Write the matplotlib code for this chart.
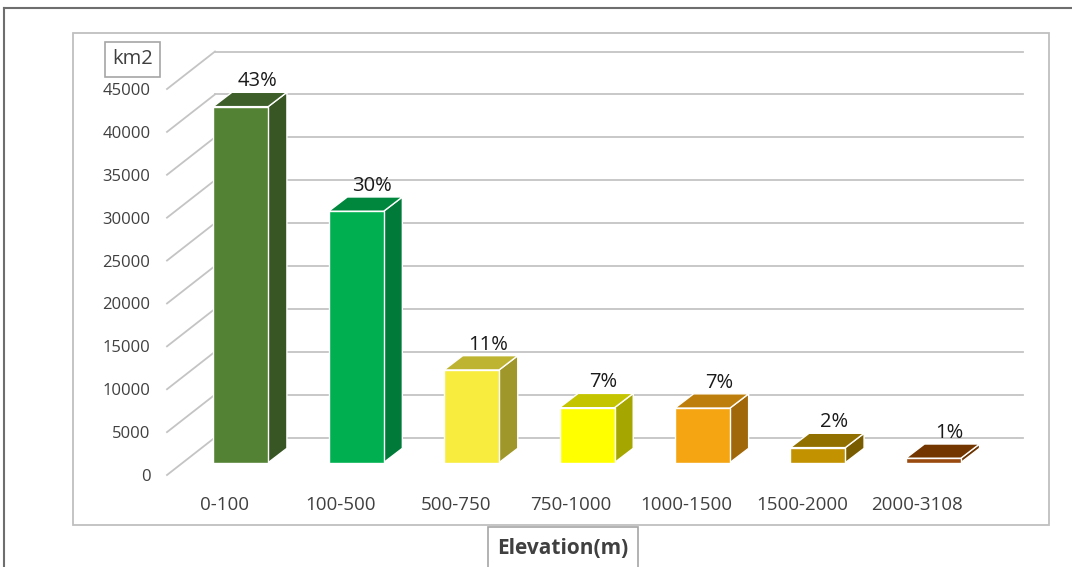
import matplotlib
matplotlib.use("Agg")
import matplotlib.pyplot as plt
from matplotlib.patches import Polygon, Rectangle
from matplotlib.lines import Line2D

# ---- data -------------------------------------------------------------
categories = ["0-100", "100-500", "500-750", "750-1000",
              "1000-1500", "1500-2000", "2000-3108"]
area_km2 = [41500, 29300, 10800, 6400, 6350, 1750, 500]
y_ticks = list(range(0, 45001, 5000))

front_colors = ["#548235", "#00B050", "#F8EC3F", "#FFFF00",
                "#F5A511", "#C39200", "#9A4A0E"]
top_colors = ["#3E5F2A", "#00873E", "#BFB432", "#C4C400",
              "#BE7E0B", "#917000", "#733600"]
side_colors = ["#375623", "#007A38", "#A0972A", "#A6A600",
               "#A1680A", "#7A5C00", "#6B3300"]

plt.rcParams["font.family"] = ["Open Sans", "DejaVu Sans"]

W, H, DPI = 1072, 567, 100
fig = plt.figure(figsize=(W / DPI, H / DPI), dpi=DPI)
fig.patch.set_facecolor("white")

# front plane of the 3-D box
AX_L, AX_B, AX_W, AX_H = 167, 92, 808, 386
ax = fig.add_axes([AX_L / W, AX_B / H, AX_W / W, AX_H / H])
ax.set_xlim(-0.5, 6.5)
ax.set_ylim(0, 45000)
ax.patch.set_visible(False)
for s in ax.spines.values():
    s.set_visible(False)

px_per_cat = AX_W / 7.0
px_per_val = AX_H / 45000.0


def depth(dx_px, dy_px):
    """Oblique depth offset given in pixels -> data units."""
    return dx_px / px_per_cat, dy_px / px_per_val


wall_dx, wall_dy = depth(48, 37.5)
front_dx, front_dy = depth(16, 12.4)
bar_dx, bar_dy = depth(18.7, 14.3)
bar_w = 55 / px_per_cat

grid_col = "#C4C4C4"
x0, x1 = -0.5, 6.5
for v in y_ticks:
    # back-wall gridline
    ax.add_line(Line2D([x0 + wall_dx, x1 + wall_dx], [v + wall_dy, v + wall_dy],
                       color=grid_col, lw=1.3, clip_on=False, zorder=1))
    # side-wall diagonal
    ax.add_line(Line2D([x0, x0 + wall_dx], [v, v + wall_dy],
                       color=grid_col, lw=1.3, clip_on=False, zorder=1))

total = sum(area_km2)
for i, v in enumerate(area_km2):
    xl = i + front_dx - bar_w / 2
    xr = i + front_dx + bar_w / 2
    yb = front_dy
    yt = front_dy + v
    edge = dict(edgecolor="white", linewidth=1.0, clip_on=False, zorder=3,
                joinstyle="round")
    ax.add_patch(Polygon([(xr, yb), (xr + bar_dx, yb + bar_dy),
                          (xr + bar_dx, yt + bar_dy), (xr, yt)],
                         closed=True, facecolor=side_colors[i], **edge))
    ax.add_patch(Polygon([(xl, yt), (xr, yt), (xr + bar_dx, yt + bar_dy),
                          (xl + bar_dx, yt + bar_dy)],
                         closed=True, facecolor=top_colors[i], **edge))
    ax.add_patch(Rectangle((xl, yb), bar_w, v, facecolor=front_colors[i], **edge))
    pct = round(100 * v / total)
    ax.annotate(f"{pct}%", xy=(i + front_dx + bar_dx / 2, yt + bar_dy / 2),
                xytext=(5, 13), textcoords="offset points",
                ha="center", va="center", fontsize=14.5, color="#1a1a1a",
                annotation_clip=False, zorder=4)

ax.set_yticks(y_ticks)
ax.set_yticklabels([str(t) for t in y_ticks])
ax.set_xticks(range(len(categories)))
ax.set_xticklabels(categories)
ax.tick_params(axis="y", length=0, pad=12, labelsize=12, labelcolor="#404040")
ax.tick_params(axis="x", length=0, pad=15, labelsize=13.5, labelcolor="#404040")

# axis title boxes
def fig_rect(x, y, w, h, **kw):
    fig.add_artist(Rectangle((x / W, 1 - (y + h) / H), w / W, h / H,
                             transform=fig.transFigure, fill=False, **kw))


fig_rect(105, 42, 55, 35, edgecolor="#A6A6A6", linewidth=1.2)
fig.text(132.5 / W, 1 - 59 / H, "km2", ha="center", va="center",
         fontsize=14.5, color="#404040")

fig_rect(488, 527, 150, 45, edgecolor="#A6A6A6", linewidth=1.2)
fig.text(563 / W, 1 - 548 / H, "Elevation(m)", ha="center", va="center",
         fontsize=15, fontweight="bold", color="#404040")

# plot-area and chart borders
fig_rect(73, 33, 976, 492, edgecolor="#BFBFBF", linewidth=1.3)
fig.add_artist(Line2D([4 / W, 1], [1 - 8 / H, 1 - 8 / H], transform=fig.transFigure,
                      color="#6E6E6E", lw=1.5))
fig.add_artist(Line2D([4 / W, 4 / W], [0, 1 - 8 / H], transform=fig.transFigure,
                      color="#6E6E6E", lw=1.5))

fig.savefig("out.png", dpi=DPI, facecolor="white")
